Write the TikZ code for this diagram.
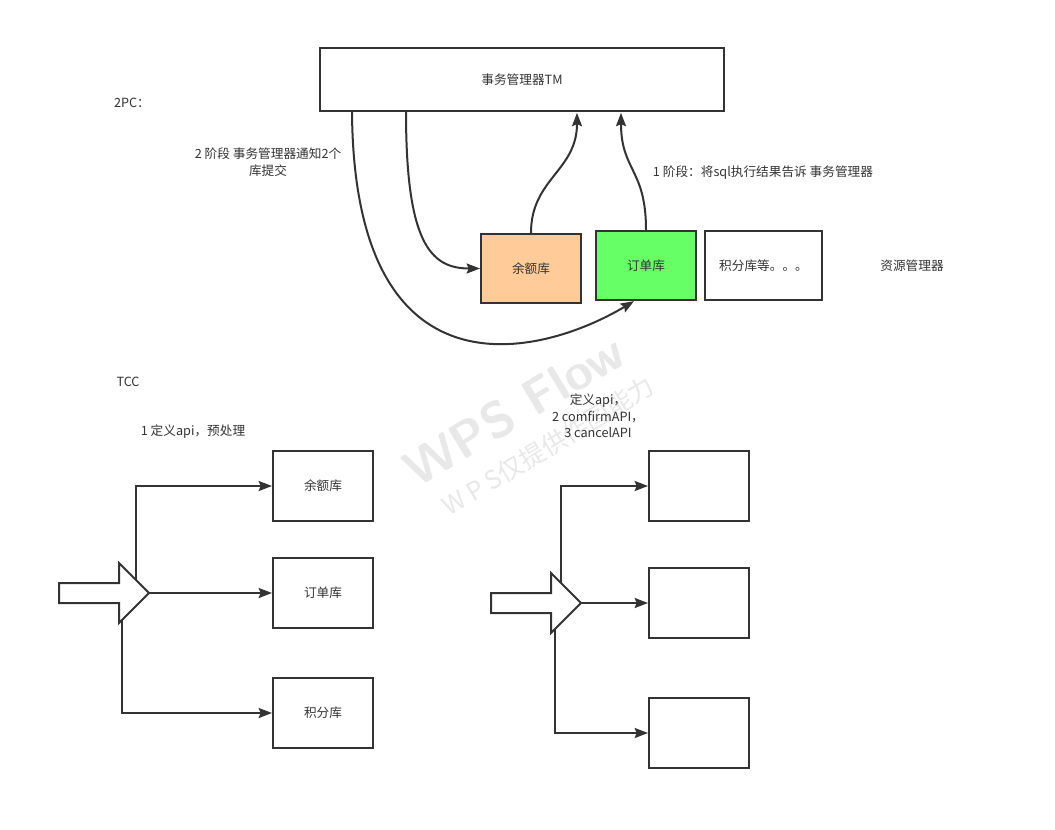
\documentclass[tikz,border=0pt]{standalone}
\usepackage{fontspec}
\setmainfont{Noto Sans CJK SC}
\usetikzlibrary{arrows.meta,calc}
\definecolor{inkgray}{HTML}{333333}
\definecolor{yuefill}{HTML}{FFCC99}
\definecolor{dingfill}{HTML}{66FF66}
\definecolor{wmgray}{HTML}{E8E8E8}

\begin{document}
\begin{tikzpicture}[x=0.75pt,y=-0.75pt,
    every node/.style={font=\fontsize{9.5}{12.5}\selectfont,text=inkgray},
    box/.style={draw=inkgray,line width=1.5pt,minimum width=75pt,minimum height=52pt,inner sep=0pt},
    link/.style={draw=inkgray,line width=1.5pt,-{Stealth[length=10pt,width=7.5pt,inset=1.5pt]}},
    blockarrow/.style={draw=inkgray,line width=1.5pt,line join=miter}]
    \useasboundingbox (0,0) rectangle (1055,830);

    \node[text=wmgray,font=\sffamily\bfseries\fontsize{38}{38}\selectfont,rotate=31] (wm1) at (514,410) {WPS Flow};
    \node[text=wmgray,font=\fontsize{19}{19}\selectfont,rotate=31] (wm2) at (548,446) {W P S仅提供作图能力};

    % 2PC
    \node (pc) at (132,103) {2PC：};
    \node[box,minimum width=303pt,minimum height=47pt] (tm) at (522,79.5) {事务管理器TM};
    \node[box,fill=yuefill] (yue) at (531,268.5) {余额库};
    \node[box,fill=dingfill] (ding) at (646,265.5) {订单库};
    \node[box,minimum width=88pt] (ji) at (763.5,265.5) {积分库等。。。};
    \node (rm) at (912,266) {资源管理器};
    \node[align=center] (p2) at (268,162) {2 阶段 事务管理器通知2个\\库提交};
    \node (p1) at (763,173) {1 阶段：将sql执行结果告诉 事务管理器};

    \draw[link] ($(tm.south west)+(87,0)$) .. controls +(0,130) and +(-50,0) .. (yue.west);
    \draw[link] ($(tm.south west)+(33,0)$) .. controls +(2,292) and +(-94,56) .. ($(ding.south)+(-12,0)$);
    \draw[link] (yue.north) .. controls +(0,-54) and +(0,58) .. ($(tm.south west)+(258,1)$);
    \draw[link] (ding.north) .. controls +(0,-61) and +(0,58) .. ($(tm.south west)+(302,1)$);

    % TCC
    \node (tcc) at (128,382) {TCC};
    \node (t1) at (193,432) {1 定义api，预处理};
    \node[box] (yueL) at (323,486) {余额库};
    \node[box] (dingL) at (323,593) {订单库};
    \node[box] (jiL) at (323,713) {积分库};
    \draw[blockarrow] (59,583) -- (119,583) -- (119,563) -- (149,593) coordinate (tipL)
        -- (119,623) -- (119,603) -- (59,603) -- cycle;
    \coordinate (upL) at (136,580);
    \coordinate (lowL) at (122,620);
    \draw[link] (upL) |- (yueL.west);
    \draw[link] (tipL) -- (dingL.west);
    \draw[link] (lowL) |- (jiL.west);

    \node[align=center] (t2) at (598,416) {定义api，\\2 comfirmAPI，\\3 cancelAPI};
    \node[box] (r1) at (699,486) {};
    \node[box] (r2) at (699,603) {};
    \node[box] (r3) at (699,733) {};
    \draw[blockarrow] (491,593) -- (551,593) -- (551,573) -- (581,603) coordinate (tipR)
        -- (551,633) -- (551,613) -- (491,613) -- cycle;
    \coordinate (upR) at (561,583);
    \coordinate (lowR) at (555,629);
    \draw[link] (upR) |- (r1.west);
    \draw[link] (tipR) -- (r2.west);
    \draw[link] (lowR) |- (r3.west);
\end{tikzpicture}
\end{document}
